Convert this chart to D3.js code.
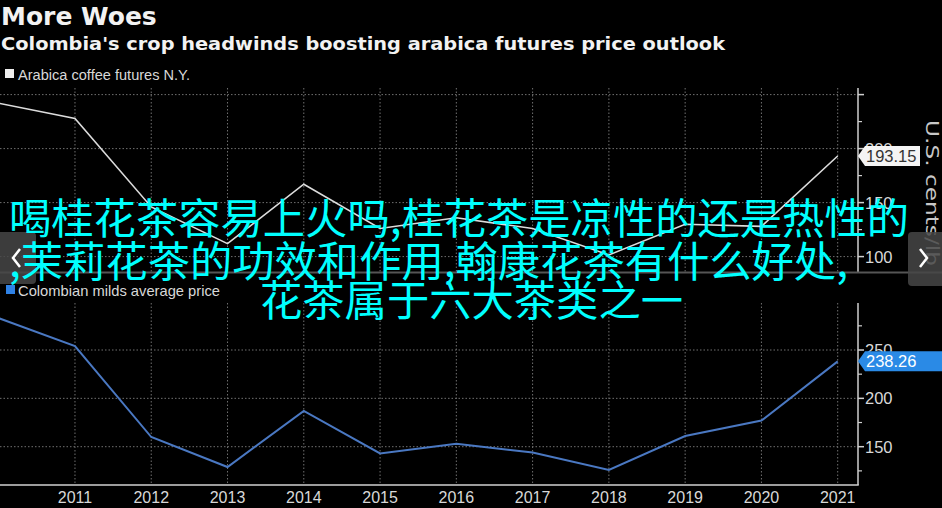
<!DOCTYPE html>
<html>
<head>
<meta charset="utf-8">
<script src="https://cdn.jsdelivr.net/npm/d3@7/dist/d3.min.js"></script>
<style>
html,body{margin:0;padding:0;background:#000;overflow:hidden;}
svg{display:block;}
</style>
</head>
<body>
<svg id="chart" width="942" height="508"></svg>
<script>
const years = [2010,2011,2012,2013,2014,2015,2016,2017,2018,2019,2020,2021];
const arabica = [242,228,146,112,167,126,136,126,101.5,130,128,193.15];
const colombian = [283,254,160,129,187,143,153,144,126,161,177,238.26];
const xTickYears = [2011,2012,2013,2014,2015,2016,2017,2018,2019,2020,2021];
const topTicks = [250,200,150,100];
const topMinor = [225,175,125];
const botTicks = [250,200,150];
const botMinor = [275,225,175,125];
const title = "More Woes";
const subtitle = "Colombia's crop headwinds boosting arabica futures price outlook";
const legendTop = "Arabica coffee futures N.Y.";
const legendBot = "Colombian milds average price";
const axisTitle = "U.S. cents/lb";
const overlayLines = ["喝桂花茶容易上火吗,桂花茶是凉性的还是热性的", ",茉莉花茶的功效和作用,翰康花茶有什么好处,", "花茶属于六大茶类之一"];

const svg = d3.select("#chart");
const W = 942, H = 508;
const axisX = 858;
svg.append("rect").attr("width", W).attr("height", H).attr("fill", "#000");

const x = d3.scaleLinear().domain([2010, 2021]).range([-1.3, 837.7]);
const yTop = d3.scaleLinear().domain([100, 200]).range([256.6, 148.6]);
const yBot = d3.scaleLinear().domain([150, 250]).range([446.7, 350]);

const gridColor = "#707070";
const labelColor = "#d8d8d8";

// title
svg.append("text").attr("x", 1).attr("y", 25).text(title)
  .attr("font-family", "DejaVu Sans").attr("font-weight", "bold").attr("font-size", 25).attr("fill", "#f2f2f2");
svg.append("text").attr("x", 1).attr("y", 50).text(subtitle)
  .attr("font-family", "DejaVu Sans").attr("font-weight", "bold").attr("font-size", 18.5).attr("fill", "#f2f2f2")
  .attr("textLength", 724).attr("lengthAdjust", "spacingAndGlyphs");

// legends
svg.append("rect").attr("x", 5).attr("y", 69).attr("width", 9).attr("height", 9).attr("fill", "#eeeeee");
svg.append("text").attr("x", 18).attr("y", 79.5).text(legendTop)
  .attr("font-family", "Liberation Sans").attr("font-size", 14).attr("fill", labelColor)
  .attr("textLength", 172).attr("lengthAdjust", "spacingAndGlyphs");

// panel function
function panel(y, gTop, gBot, ticks, minor, labelTicks) {
  const g = svg.append("g");
  g.selectAll("line.hg").data(ticks).join("line")
    .attr("x1", 0).attr("x2", axisX).attr("y1", d => y(d)).attr("y2", d => y(d))
    .attr("stroke", gridColor).attr("stroke-width", 1).attr("stroke-dasharray", "1.5,2");
  g.selectAll("line.vg").data(xTickYears).join("line")
    .attr("x1", d => x(d)).attr("x2", d => x(d)).attr("y1", gTop).attr("y2", gBot)
    .attr("stroke", gridColor).attr("stroke-width", 1).attr("stroke-dasharray", "1.5,2");
  g.append("line").attr("x1", axisX).attr("x2", axisX).attr("y1", gTop).attr("y2", gBot)
    .attr("stroke", "#cfcfcf").attr("stroke-width", 1.5);
  g.selectAll("line.tk").data(ticks).join("line")
    .attr("x1", axisX).attr("x2", axisX + 6).attr("y1", d => y(d)).attr("y2", d => y(d))
    .attr("stroke", "#cfcfcf").attr("stroke-width", 1.5);
  g.selectAll("line.mk").data(minor).join("line")
    .attr("x1", axisX).attr("x2", axisX + 4).attr("y1", d => y(d)).attr("y2", d => y(d))
    .attr("stroke", "#cfcfcf").attr("stroke-width", 1.2);
  g.selectAll("text.tl").data(labelTicks).join("text")
    .attr("x", axisX + 7).attr("y", d => y(d) + 6).text(d => d)
    .attr("font-family", "Liberation Sans").attr("font-size", 16.5).attr("fill", labelColor);
  return g;
}

panel(yTop, 88, 272, topTicks, topMinor, [200, 150, 100]);
panel(yBot, 303, 485, botTicks, botMinor, [250, 200, 150]);

// separator
svg.append("line").attr("x1", 0).attr("x2", W).attr("y1", 272.5).attr("y2", 272.5)
  .attr("stroke", "#555").attr("stroke-width", 2);

// bottom x axis
svg.append("line").attr("x1", 0).attr("x2", axisX + 0.75).attr("y1", 485).attr("y2", 485)
  .attr("stroke", "#d0d0d0").attr("stroke-width", 1.5);
svg.selectAll("text.xl").data(xTickYears).join("text")
  .attr("x", d => x(d)).attr("y", 503).attr("text-anchor", "middle").text(d => d)
  .attr("font-family", "Liberation Sans").attr("font-size", 16).attr("fill", labelColor);

// lines
const lineTop = d3.line().x((d, i) => x(years[i])).y(d => yTop(d));
const lineBot = d3.line().x((d, i) => x(years[i])).y(d => yBot(d));
svg.append("path").attr("d", lineTop(arabica)).attr("fill", "none")
  .attr("stroke", "#dcdcdc").attr("stroke-width", 1.6);
svg.append("path").attr("d", lineBot(colombian)).attr("fill", "none")
  .attr("stroke", "#4a78c2").attr("stroke-width", 2);

// bottom legend
svg.append("rect").attr("x", 6).attr("y", 285).attr("width", 9).attr("height", 9).attr("fill", "#2f82e6");
svg.append("text").attr("x", 18).attr("y", 295.5).text(legendBot)
  .attr("font-family", "Liberation Sans").attr("font-size", 14.5).attr("fill", labelColor)
  .attr("textLength", 202).attr("lengthAdjust", "spacingAndGlyphs");

// value labels
function valueLabel(v, y, bg, fg, w) {
  const cy = y(v);
  const g = svg.append("g");
  g.append("path")
    .attr("d", `M${axisX},${cy} L${axisX + 7},${cy - 10} L${axisX + w},${cy - 10} L${axisX + w},${cy + 10} L${axisX + 7},${cy + 10} Z`)
    .attr("fill", bg);
  g.append("text").attr("x", axisX + 8).attr("y", cy + 6).text(v.toFixed(2))
    .attr("font-family", "Liberation Sans").attr("font-size", 16.5).attr("fill", fg);
}
valueLabel(arabica[arabica.length - 1], yTop, "#f4f4f4", "#333", 62);
valueLabel(colombian[colombian.length - 1], yBot, "#2a8ae6", "#ffffff", 90);

// axis title
svg.append("text").attr("transform", "translate(926,120) rotate(90)")
  .text(axisTitle).attr("font-family", "DejaVu Sans").attr("font-size", 17)
  .attr("fill", "#c8c8c8").attr("textLength", 146).attr("lengthAdjust", "spacingAndGlyphs");

// nav buttons
svg.append("rect").attr("x", -4).attr("y", 232).attr("width", 40).attr("height", 52).attr("rx", 4)
  .attr("fill", "rgba(70,70,70,0.85)");
svg.append("path").attr("d", "M20,249 L13,258 L20,267").attr("fill", "none")
  .attr("stroke", "#fff").attr("stroke-width", 2.5);
svg.append("rect").attr("x", 908).attr("y", 232).attr("width", 40).attr("height", 54).attr("rx", 4)
  .attr("fill", "rgba(70,70,70,0.85)");
svg.append("path").attr("d", "M920,249 L927,258 L920,267").attr("fill", "none")
  .attr("stroke", "#fff").attr("stroke-width", 2.5);

// overlay text
const ovX = [9, 9, 260];
const ovY = [234, 277, 316];
svg.selectAll("text.ov").data(overlayLines).join("text")
  .attr("x", (d, i) => ovX[i]).attr("y", (d, i) => ovY[i]).text(d => d)
  .attr("font-family", "Noto Sans CJK SC").attr("font-size", 42.3).attr("fill", "#00ffff");
</script>
</body>
</html>
